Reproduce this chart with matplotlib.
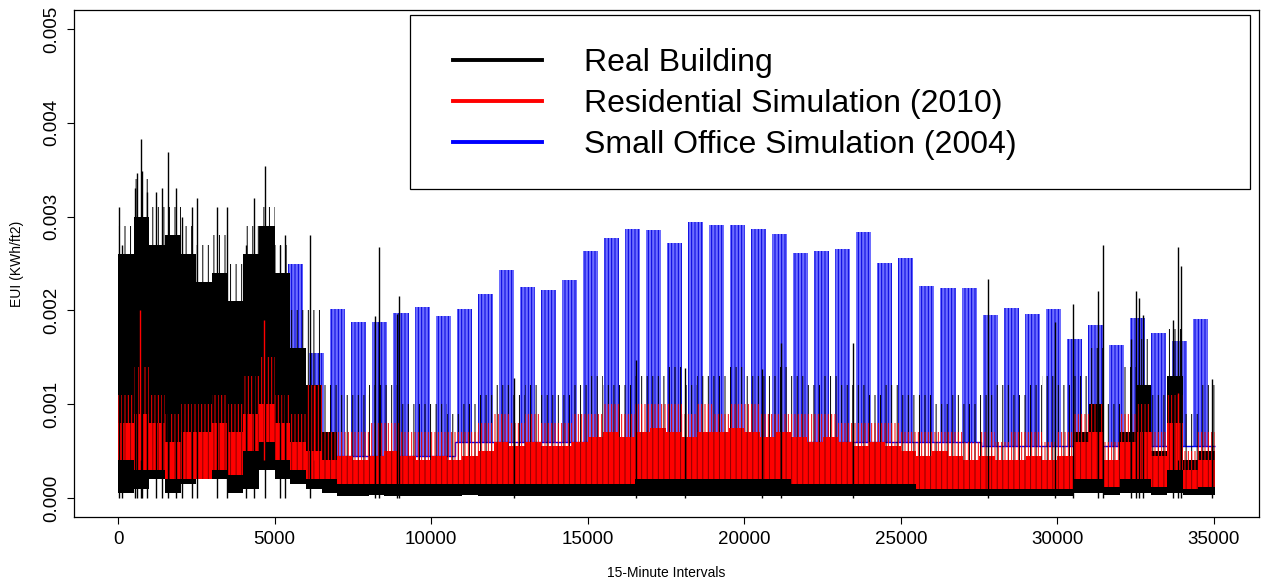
import numpy as np
import matplotlib.pyplot as plt
from matplotlib.patches import Rectangle
from matplotlib.lines import Line2D

plt.rcParams['font.family'] = ['Liberation Sans', 'DejaVu Sans']
plt.rcParams['hatch.linewidth'] = 0.7

# --- datos (bloques de 500 intervalos de 15 min) ---
real_lo = [0.00005, 0.0001, 0.0002, 0.00005, 0.00015, 0.0002, 0.0002, 0.00005, 0.0001, 0.0003,
           0.0002, 0.00015, 0.0001, 0.00005, 0.00002, 0.00002, 0.00003, 0.00002, 0.00002, 0.00002,
           0.00002, 0.00002, 0.00003, 0.00002, 0.00002, 0.00002, 0.00002, 0.00002, 0.00002, 0.00002,
           0.00002, 0.00002, 0.00002, 0.00002, 0.00002, 0.00002, 0.00002, 0.00002, 0.00002, 0.00002,
           0.00002, 0.00002, 0.00002, 0.00002, 0.00002, 0.00002, 0.00002, 0.00002, 0.00002, 0.00002,
           0.00002, 0.00002, 0.00002, 0.00002, 0.00002, 0.00002, 0.00002, 0.00002, 0.00002, 0.00002,
           0.00002, 0.00005, 0.00005, 0.00003, 0.00005, 0.00005, 0.00003, 0.00005, 0.00003, 0.00003]
real_mid = [0.0026, 0.0030, 0.0027, 0.0028, 0.0026, 0.0023, 0.0024, 0.0021, 0.0026, 0.0029,
            0.0024, 0.0016, 0.0012, 0.0007, 0.0004, 0.0003, 0.00035, 0.0003, 0.00025, 0.00025,
            0.00025, 0.00025, 0.00025, 0.0003, 0.0003, 0.0003, 0.0003, 0.00025, 0.00025, 0.0003,
            0.0003, 0.0003, 0.0003, 0.00035, 0.0003, 0.00035, 0.0003, 0.0003, 0.0003, 0.00035,
            0.0003, 0.0003, 0.0003, 0.0003, 0.0003, 0.0003, 0.0003, 0.0003, 0.0003, 0.0003,
            0.0003, 0.00025, 0.00025, 0.00025, 0.00025, 0.00025, 0.00025, 0.00025, 0.00025, 0.00025,
            0.00025, 0.0007, 0.0010, 0.0004, 0.0007, 0.0012, 0.0005, 0.0013, 0.0004, 0.0005]
real_top = [0.0029, 0.0034, 0.0031, 0.0031, 0.0029, 0.0027, 0.0028, 0.0025, 0.0029, 0.0031,
            0.0027, 0.0020, 0.0020, 0.0012, 0.0011, 0.0011, 0.0012, 0.0012, 0.0010, 0.0010,
            0.0010, 0.0009, 0.0010, 0.0011, 0.0012, 0.0011, 0.0012, 0.0011, 0.0011, 0.0012,
            0.0013, 0.0012, 0.0012, 0.0013, 0.0013, 0.0014, 0.0012, 0.0013, 0.0013, 0.0014,
            0.0013, 0.0013, 0.0014, 0.0013, 0.0012, 0.0013, 0.0012, 0.0012, 0.0011, 0.0012,
            0.0011, 0.0011, 0.0010, 0.0011, 0.0010, 0.0011, 0.0012, 0.0011, 0.0012, 0.0013,
            0.0012, 0.0013, 0.0016, 0.0010, 0.0014, 0.0017, 0.0011, 0.0018, 0.0009, 0.0012]
real_spike_x = [30, 130, 540, 610, 725, 770, 930, 1210, 1400, 1608, 1850, 2040, 2360, 2535,
                3170, 3480, 4090, 4335, 4707, 5180, 5340, 6140, 8200, 8340, 8900, 8980, 12650,
                16550, 18120, 20580, 21180, 23480, 27800, 29930, 30510, 31300, 31470, 32350,
                32520, 32600, 32750, 33700, 33870, 33960, 34950]
real_spike_y = [0.0031, 0.0027, 0.0033, 0.00347, 0.00383, 0.00349, 0.00326, 0.00326, 0.0033,
                0.00369, 0.0033, 0.0030, 0.0031, 0.0032, 0.0031, 0.0031, 0.0027, 0.0032, 0.00354,
                0.0027, 0.0028, 0.0028, 0.00194, 0.00268, 0.00196, 0.00215, 0.00128, 0.00147,
                0.00139, 0.00137, 0.00165, 0.00165, 0.00233, 0.00188, 0.00207, 0.00221, 0.0027,
                0.00169, 0.00221, 0.00213, 0.00195, 0.0019, 0.00268, 0.00247, 0.00127]

res_lo = [0.0004, 0.0003, 0.0003, 0.0002, 0.0002, 0.0002, 0.0003, 0.00025, 0.0005, 0.0006,
          0.0004, 0.0003, 0.0002, 0.0002, 0.00015, 0.00015, 0.00015, 0.00015, 0.00015, 0.00015,
          0.00015, 0.00015, 0.00015, 0.00015, 0.00015, 0.00015, 0.00015, 0.00015, 0.00015, 0.00015,
          0.00015, 0.00015, 0.00015, 0.0002, 0.0002, 0.0002, 0.0002, 0.0002, 0.0002, 0.0002,
          0.0002, 0.0002, 0.0002, 0.00015, 0.00015, 0.00015, 0.00015, 0.00015, 0.00015, 0.00015,
          0.00015, 0.0001, 0.0001, 0.0001, 0.0001, 0.0001, 0.0001, 0.0001, 0.0001, 0.0001,
          0.0001, 0.0002, 0.0002, 0.00012, 0.0002, 0.0002, 0.00012, 0.0003, 0.0001, 0.00012]
res_mid = [0.0008, 0.0009, 0.0008, 0.0006, 0.0007, 0.0007, 0.0008, 0.0007, 0.0009, 0.0010,
           0.0008, 0.0006, 0.0005, 0.0004, 0.00045, 0.0004, 0.00045, 0.0005, 0.00045, 0.0004,
           0.00045, 0.0004, 0.00045, 0.0005, 0.0006, 0.00055, 0.0006, 0.00055, 0.00055, 0.0006,
           0.00065, 0.0007, 0.00065, 0.0007, 0.00075, 0.0007, 0.00065, 0.0007, 0.0007, 0.00075,
           0.0007, 0.00065, 0.0007, 0.00065, 0.0006, 0.00065, 0.0006, 0.00055, 0.0006, 0.00055,
           0.0005, 0.00045, 0.0005, 0.00045, 0.0004, 0.00045, 0.0004, 0.0004, 0.00045, 0.0004,
           0.00045, 0.0006, 0.0007, 0.0004, 0.0006, 0.0007, 0.00045, 0.0008, 0.0003, 0.0004]
res_top = [0.0011, 0.0014, 0.0011, 0.0009, 0.0010, 0.0010, 0.0011, 0.0010, 0.0013, 0.0015,
           0.0011, 0.0009, 0.0012, 0.0007, 0.0007, 0.0007, 0.0008, 0.0008, 0.0007, 0.0007,
           0.0007, 0.0007, 0.0007, 0.0008, 0.0009, 0.0008, 0.0009, 0.0008, 0.0008, 0.0009,
           0.0009, 0.0010, 0.0009, 0.0010, 0.0010, 0.0010, 0.0009, 0.0010, 0.0009, 0.0010,
           0.0010, 0.0009, 0.0009, 0.0009, 0.0009, 0.0009, 0.0008, 0.0008, 0.0008, 0.0008,
           0.0007, 0.0007, 0.0007, 0.0007, 0.0006, 0.0007, 0.0006, 0.0007, 0.0007, 0.0006,
           0.0007, 0.0009, 0.0010, 0.0006, 0.0009, 0.0010, 0.0007, 0.0011, 0.0005, 0.0007]
res_spike_x = [690, 4660, 6250, 33840]
res_spike_y = [0.0020, 0.0019, 0.0012, 0.00112]

# oficina pequena: pico y minimo de cada semana (672 intervalos)
office_peak = [0.0018, 0.0019, 0.0018, 0.0019, 0.0021, 0.0017, 0.0021, 0.0021, 0.0025,
               0.00155, 0.00201, 0.00188, 0.00188, 0.00197, 0.00204, 0.00194, 0.00201, 0.00217,
               0.00243, 0.00225, 0.00222, 0.00232, 0.00263, 0.00277, 0.00287, 0.00286, 0.00272,
               0.00294, 0.00291, 0.00291, 0.00287, 0.00282, 0.00261, 0.00263, 0.00266, 0.00284,
               0.00251, 0.00256, 0.00226, 0.00224, 0.00224, 0.00195, 0.00203, 0.00196, 0.00201,
               0.00170, 0.00184, 0.00163, 0.00192, 0.00176, 0.00167, 0.00191]
office_low = [0.00035, 0.0004, 0.00035, 0.0004, 0.0004, 0.00045, 0.0004, 0.00035, 0.0004,
              0.00045, 0.00045, 0.00045, 0.00045, 0.00045, 0.00045, 0.00045, 0.0006, 0.0006,
              0.0006, 0.0006, 0.0006, 0.0006, 0.0006, 0.0006, 0.0006, 0.0006, 0.0006, 0.0006,
              0.0006, 0.0006, 0.0006, 0.0006, 0.0006, 0.0006, 0.0006, 0.0006, 0.0006, 0.0006,
              0.0006, 0.0006, 0.0006, 0.00055, 0.00055, 0.00055, 0.00055, 0.00055, 0.00055,
              0.00055, 0.00055, 0.00055, 0.00055, 0.00055]

labels = ['Real Building', 'Residential Simulation (2010)', 'Small Office Simulation (2004)']
colors = ['black', 'red', 'blue']

# --- figura ---
fig = plt.figure(figsize=(12.61, 5.83), dpi=100)
ax = fig.add_axes([0.0589, 0.1137, 0.9395, 0.8686])

edges = np.append(np.arange(0, 35000, 500), 35040)
week_start = np.arange(len(office_peak)) * 672
week_edges = np.append(week_start, 35040)

# azul: dias laborables de cada semana
ax.bar(week_start + 300, np.array(office_peak) - np.array(office_low), width=480,
       bottom=office_low, color='#6e6eff', edgecolor='#0000dd', hatch='|||||', linewidth=0)
ax.stairs(office_low, week_edges, color='blue', lw=1, baseline=None)

# negro: edificio real
ax.stairs(real_mid, edges, baseline=real_lo, fill=True, color='black', lw=0)
ax.stairs(real_top, edges, baseline=real_mid, fill=True, facecolor='none',
          edgecolor='black', hatch='|||', linewidth=0)
ax.vlines(real_spike_x, 0, real_spike_y, color='black', lw=1)

# rojo: simulacion residencial
ax.stairs(res_mid, edges, baseline=res_lo, fill=True, facecolor='red',
          edgecolor='#8a0000', hatch='|||', linewidth=0)
ax.stairs(res_top, edges, baseline=res_mid, fill=True, facecolor='none',
          edgecolor='red', hatch='|||||', linewidth=0)
ax.vlines(res_spike_x, 0.0004, res_spike_y, color='red', lw=1)

ax.set_xlim(-1400, 36441)
ax.set_ylim(-0.0002, 0.0052)
ax.set_xticks(np.arange(0, 35001, 5000))
ax.set_yticks(np.arange(0, 0.0051, 0.001))
ax.set_yticklabels(['%.3f' % v for v in np.arange(0, 0.0051, 0.001)], rotation=90, va='center')
ax.tick_params(length=5, width=0.8, labelsize=13.5, pad=5)
for s in ax.spines.values():
    s.set_linewidth(0.9)

ax.set_xlabel('15-Minute Intervals', fontsize=10)
ax.xaxis.set_label_coords(0.5, -0.098)
ax.set_ylabel('EUI (KWh/ft2)', fontsize=10)
ax.yaxis.set_label_coords(-0.0425, 0.5)

# leyenda con caja ancha como en R
ax.add_patch(Rectangle((0.2834, 0.6471), 0.709, 0.3436, transform=ax.transAxes,
                       facecolor='white', edgecolor='black', lw=0.9, zorder=5))
handles = [Line2D([], [], color=c, lw=2.8) for c in colors]
leg = ax.legend(handles, labels, loc='center left', bbox_to_anchor=(0.3197, 0.815),
                frameon=False, fontsize=23, handlelength=2.8, handletextpad=1.3,
                labelspacing=0.35, borderpad=0, borderaxespad=0)
leg.set_zorder(6)

fig.savefig('out.png', dpi=100)
